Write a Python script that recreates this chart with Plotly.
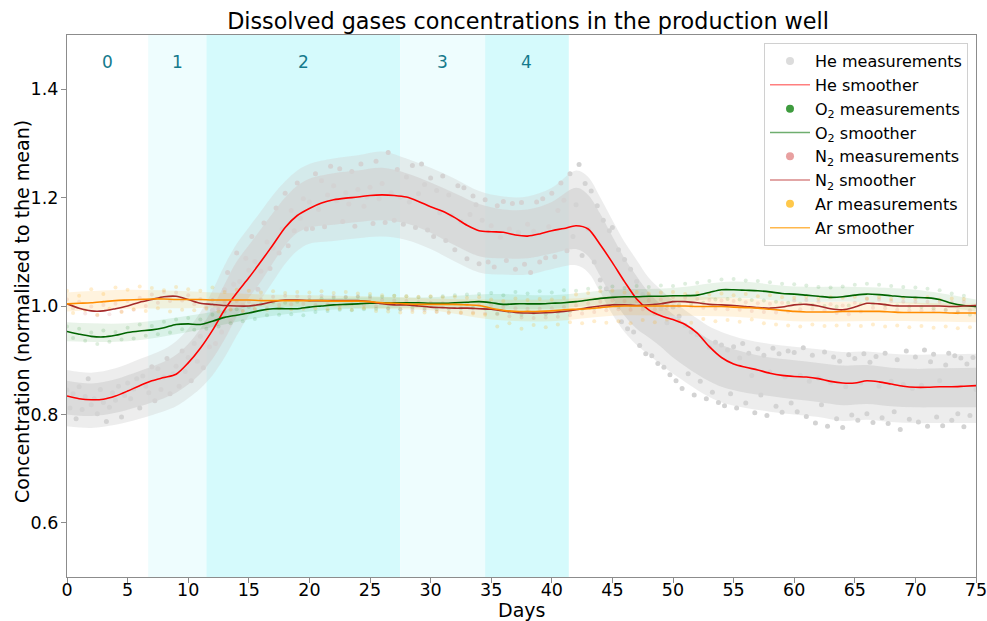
import numpy as np
import plotly.graph_objects as go

# ---------------- data ----------------
smooth_days = list(range(0, 76))

he_smooth = [0.834, 0.829, 0.827, 0.828, 0.834, 0.843, 0.853, 0.862, 0.868, 0.874,
             0.895, 0.922, 0.955, 0.993, 1.024, 1.052, 1.082, 1.113, 1.145, 1.167,
             1.180, 1.190, 1.196, 1.199, 1.201, 1.204, 1.205, 1.204, 1.201, 1.193,
             1.183, 1.175, 1.163, 1.149, 1.139, 1.137, 1.136, 1.131, 1.129, 1.133,
             1.139, 1.143, 1.148, 1.142, 1.113, 1.080, 1.045, 1.013, 0.993, 0.982,
             0.975, 0.966, 0.950, 0.925, 0.905, 0.893, 0.887, 0.882, 0.876, 0.872,
             0.870, 0.869, 0.866, 0.861, 0.858, 0.858, 0.862, 0.860, 0.856, 0.852,
             0.850, 0.850, 0.851, 0.851, 0.852, 0.853]

o2_smooth = [0.953, 0.948, 0.944, 0.943, 0.946, 0.951, 0.954, 0.956, 0.960, 0.966,
             0.967, 0.966, 0.972, 0.979, 0.983, 0.987, 0.992, 0.995, 0.995, 0.995,
             0.998, 1.000, 1.002, 1.003, 1.004, 1.005, 1.006, 1.006, 1.006, 1.006,
             1.005, 1.005, 1.006, 1.007, 1.008, 1.006, 1.003, 1.004, 1.004, 1.004,
             1.005, 1.006, 1.008, 1.011, 1.014, 1.016, 1.017, 1.017, 1.018, 1.018,
             1.019, 1.019, 1.020, 1.025, 1.030, 1.030, 1.029, 1.028, 1.026, 1.023,
             1.022, 1.020, 1.018, 1.016, 1.017, 1.020, 1.022, 1.021, 1.019, 1.017,
             1.016, 1.015, 1.012, 1.005, 1.001, 0.999]

n2_smooth = [1.004, 0.996, 0.991, 0.991, 0.995, 1.000, 1.007, 1.012, 1.017, 1.018,
             1.012, 1.005, 1.003, 1.001, 1.000, 1.000, 1.003, 1.008, 1.011, 1.011,
             1.010, 1.010, 1.010, 1.010, 1.010, 1.008, 1.004, 1.002, 1.002, 1.000,
             0.998, 0.997, 0.996, 0.996, 0.995, 0.994, 0.991, 0.988, 0.987, 0.987,
             0.988, 0.990, 0.993, 0.997, 1.000, 1.002, 1.002, 1.001, 1.002, 1.004,
             1.008, 1.008, 1.006, 1.003, 1.002, 1.001, 0.999, 0.997, 0.996, 0.998,
             1.002, 1.003, 1.000, 0.995, 0.993, 0.998, 1.005, 1.004, 1.001, 1.000,
             1.000, 1.000, 1.000, 0.999, 1.000, 1.001]

ar_smooth = [1.004, 1.005, 1.006, 1.008, 1.010, 1.011, 1.012, 1.013, 1.013, 1.012,
             1.012, 1.012, 1.011, 1.011, 1.011, 1.011, 1.010, 1.010, 1.010, 1.010,
             1.010, 1.010, 1.009, 1.009, 1.009, 1.008, 1.006, 1.005, 1.004, 1.003,
             1.003, 1.003, 1.003, 1.002, 1.001, 0.996, 0.992, 0.990, 0.990, 0.990,
             0.991, 0.993, 0.994, 0.995, 0.997, 0.999, 1.000, 1.000, 1.000, 1.000,
             1.000, 1.000, 0.999, 0.999, 0.999, 0.998, 0.997, 0.996, 0.994, 0.992,
             0.990, 0.989, 0.989, 0.989, 0.990, 0.990, 0.990, 0.990, 0.989, 0.988,
             0.988, 0.988, 0.988, 0.987, 0.987, 0.987]

# He measurement cloud: dense core and sparse outer edge (lower / upper)
he_band_days = [0, 2, 4, 6, 8, 9, 10, 11, 12, 13, 14, 15, 16, 17, 18, 19, 20, 22, 24, 26,
                28, 30, 32, 34, 36, 38, 40, 42, 43, 44, 45, 46, 47, 48, 49, 50, 51, 52, 53, 54,
                56, 58, 60, 62, 64, 66, 68, 70, 72, 75]
he_band_lo = [0.800, 0.797, 0.803, 0.815, 0.830, 0.840, 0.855, 0.875, 0.902, 0.938,
              0.980, 1.015, 1.045, 1.080, 1.112, 1.135, 1.145, 1.150, 1.155, 1.158,
              1.152, 1.135, 1.112, 1.092, 1.088, 1.088, 1.097, 1.105, 1.092, 1.055,
              1.015, 0.982, 0.958, 0.942, 0.925, 0.905, 0.889, 0.874, 0.861, 0.851,
              0.840, 0.834, 0.828, 0.823, 0.817, 0.819, 0.815, 0.813, 0.813, 0.813]
he_band_hi = [0.862, 0.857, 0.865, 0.880, 0.897, 0.910, 0.930, 0.958, 0.995, 1.040,
              1.082, 1.112, 1.142, 1.172, 1.200, 1.222, 1.235, 1.245, 1.250, 1.255,
              1.245, 1.228, 1.208, 1.188, 1.178, 1.178, 1.192, 1.218, 1.205, 1.170,
              1.128, 1.088, 1.055, 1.025, 1.003, 0.985, 0.968, 0.953, 0.938, 0.928,
              0.914, 0.905, 0.900, 0.895, 0.890, 0.891, 0.886, 0.884, 0.885, 0.886]
he_outer_lo = [0.778, 0.775, 0.781, 0.792, 0.806, 0.815, 0.830, 0.848, 0.872, 0.905,
               0.945, 0.982, 1.012, 1.045, 1.078, 1.102, 1.115, 1.120, 1.125, 1.128,
               1.122, 1.105, 1.082, 1.062, 1.058, 1.058, 1.068, 1.075, 1.062, 1.025,
               0.985, 0.952, 0.928, 0.910, 0.892, 0.875, 0.860, 0.845, 0.832, 0.822,
               0.812, 0.805, 0.800, 0.795, 0.788, 0.790, 0.786, 0.784, 0.784, 0.784]
he_outer_hi = [0.882, 0.877, 0.885, 0.902, 0.920, 0.935, 0.958, 0.988, 1.028, 1.075,
               1.115, 1.145, 1.175, 1.205, 1.230, 1.250, 1.262, 1.272, 1.278, 1.285,
               1.272, 1.255, 1.235, 1.212, 1.202, 1.202, 1.218, 1.250, 1.238, 1.200,
               1.158, 1.118, 1.085, 1.052, 1.030, 1.010, 0.992, 0.977, 0.962, 0.952,
               0.938, 0.930, 0.925, 0.920, 0.915, 0.916, 0.912, 0.910, 0.911, 0.912]

# faint clouds of O2 and Ar measurements (lower / upper edge)
gas_band_days = [0, 5, 10, 15, 20, 25, 30, 35, 40, 45, 50, 55, 60, 65, 70, 75]
o2_band_lo = [0.935, 0.935, 0.952, 0.975, 0.990, 0.996, 0.996, 0.994, 0.995, 1.003,
              1.006, 1.015, 1.008, 1.008, 1.004, 0.990]
o2_band_hi = [0.970, 0.968, 0.982, 1.000, 1.012, 1.016, 1.016, 1.022, 1.020, 1.030,
              1.033, 1.045, 1.036, 1.035, 1.030, 1.012]
ar_band_lo = [0.990, 0.995, 0.996, 0.998, 0.999, 0.995, 0.992, 0.975, 0.972, 0.982,
              0.982, 0.980, 0.972, 0.972, 0.972, 0.970]
ar_band_hi = [1.025, 1.030, 1.027, 1.022, 1.020, 1.018, 1.014, 1.012, 1.012, 1.018,
              1.018, 1.015, 1.008, 1.008, 1.006, 1.004]

# individual measurements
he_days = np.linspace(0, 75, 301)
gas_days = np.linspace(0, 75, 151)

he_meas = [
    0.845, 0.812, 0.838, 0.792, 0.851, 0.809, 0.833, 0.866, 0.818, 0.829, 0.801, 0.846, 0.822, 0.787, 0.813, 0.840, 0.826, 0.852, 0.795, 0.835,
    0.858, 0.829, 0.847, 0.866, 0.812, 0.871, 0.852, 0.840, 0.888, 0.825, 0.884, 0.846, 0.869, 0.903, 0.838, 0.875, 0.889, 0.852, 0.917, 0.879,
    0.905, 0.862, 0.931, 0.898, 0.944, 0.886, 0.968, 0.925, 0.992, 0.931, 0.998, 0.952, 1.030, 1.062, 0.972, 1.040, 1.098, 1.045, 1.001, 1.088,
    1.066, 1.128, 1.082, 1.031, 1.064, 1.153, 1.118, 1.069, 1.107, 1.181, 1.098, 1.142, 1.208, 1.111, 1.176, 1.139, 1.227, 1.162, 1.198, 1.142,
    1.192, 1.143, 1.244, 1.178, 1.231, 1.146, 1.205, 1.258, 1.222, 1.194, 1.253, 1.156, 1.209, 1.188, 1.248, 1.147, 1.215, 1.262, 1.184, 1.201,
    1.219, 1.152, 1.267, 1.198, 1.226, 1.154, 1.283, 1.209, 1.158, 1.252, 1.201, 1.151, 1.238, 1.192, 1.259, 1.145, 1.207, 1.262, 1.224, 1.140,
    1.236, 1.128, 1.213, 1.172, 1.240, 1.121, 1.205, 1.167, 1.104, 1.222, 1.156, 1.218, 1.087, 1.169, 1.203, 1.187, 1.078, 1.158, 1.196, 1.081,
    1.148, 1.072, 1.185, 1.127, 1.193, 1.084, 1.142, 1.189, 1.068, 1.136, 1.191, 1.077, 1.151, 1.062, 1.138, 1.192, 1.081, 1.198, 1.089, 1.146,
    1.208, 1.091, 1.176, 1.227, 1.195, 1.102, 1.244, 1.128, 1.187, 1.261, 1.093, 1.226, 1.142, 1.212, 1.081, 1.185, 1.048, 1.158, 1.032, 1.139,
    1.145, 1.002, 1.104, 0.971, 1.086, 0.958, 1.068, 0.952, 1.045, 0.927, 1.021, 0.912, 1.018, 0.908, 0.986, 0.894, 0.995, 0.887, 0.969, 0.873,
    0.998, 0.862, 0.981, 0.848, 0.964, 0.875, 0.952, 0.836, 0.947, 0.861, 0.939, 0.829, 0.924, 0.841, 0.933, 0.822, 0.928, 0.816, 0.919, 0.838,
    0.925, 0.812, 0.904, 0.931, 0.821, 0.913, 0.872, 0.803, 0.921, 0.836, 0.909, 0.798, 0.878, 0.922, 0.815, 0.912, 0.804, 0.869, 0.917, 0.821,
    0.914, 0.805, 0.872, 0.923, 0.796, 0.861, 0.909, 0.784, 0.867, 0.818, 0.915, 0.778, 0.859, 0.906, 0.792, 0.898, 0.776, 0.851, 0.910, 0.799,
    0.903, 0.789, 0.858, 0.912, 0.801, 0.896, 0.785, 0.907, 0.852, 0.794, 0.913, 0.783, 0.861, 0.805, 0.901, 0.772, 0.855, 0.917, 0.791, 0.848,
    0.906, 0.786, 0.854, 0.919, 0.778, 0.897, 0.911, 0.795, 0.862, 0.779, 0.891, 0.913, 0.789, 0.908, 0.801, 0.904, 0.777, 0.893, 0.798, 0.905,
    0.846]

o2_meas = [
    0.962, 0.941, 0.958, 0.936, 0.951, 0.930, 0.955, 0.934, 0.952, 0.938,
    0.960, 0.940, 0.966, 0.945, 0.963, 0.948, 0.971, 0.951, 0.975, 0.957,
    0.978, 0.956, 0.975, 0.958, 0.984, 0.962, 0.990, 0.968, 0.994, 0.972,
    0.998, 0.976, 1.004, 0.983, 1.007, 0.984, 1.006, 0.985, 1.008, 0.983,
    1.011, 0.989, 1.014, 0.991, 1.015, 0.993, 1.016, 0.992, 1.017, 0.994,
    1.018, 0.995, 1.017, 0.996, 1.019, 0.994, 1.018, 0.997, 1.016, 0.995,
    1.017, 0.994, 1.018, 0.995, 1.020, 0.996, 1.021, 0.997, 1.022, 0.995,
    1.024, 0.986, 1.020, 0.989, 1.026, 0.984, 1.023, 0.987, 1.027, 0.985,
    1.025, 0.988, 1.029, 0.990, 1.028, 0.994, 1.032, 0.996, 1.034, 0.999,
    1.036, 0.998, 1.033, 1.001, 1.037, 1.000, 1.035, 1.002, 1.038, 1.001,
    1.037, 1.003, 1.041, 1.004, 1.043, 1.006, 1.046, 1.012, 1.049, 1.013,
    1.050, 1.012, 1.047, 1.011, 1.046, 1.010, 1.044, 1.008, 1.041, 1.006,
    1.040, 1.004, 1.038, 1.002, 1.035, 1.000, 1.034, 0.999, 1.036, 1.001,
    1.039, 1.003, 1.041, 1.004, 1.039, 1.002, 1.037, 1.001, 1.035, 0.999,
    1.034, 0.998, 1.032, 0.996, 1.029, 0.993, 1.023, 0.988, 1.019, 0.984,
    0.998]

n2_meas = [
    1.012, 0.996, 1.008, 0.986, 0.999, 0.983, 1.002, 0.985, 1.004, 0.990,
    1.009, 0.993, 1.015, 1.000, 1.021, 1.006, 1.026, 1.009, 1.025, 1.010,
    1.020, 1.003, 1.013, 0.997, 1.011, 0.994, 1.008, 0.993, 1.009, 0.991,
    1.008, 0.993, 1.012, 0.996, 1.017, 1.002, 1.019, 1.003, 1.018, 1.004,
    1.017, 1.002, 1.019, 1.003, 1.018, 1.001, 1.017, 1.003, 1.018, 1.002,
    1.015, 0.999, 1.011, 0.995, 1.010, 0.994, 1.009, 0.993, 1.007, 0.992,
    1.006, 0.990, 1.005, 0.988, 1.004, 0.987, 1.003, 0.988, 1.002, 0.986,
    1.002, 0.985, 0.998, 0.981, 0.996, 0.979, 0.995, 0.978, 0.995, 0.979,
    0.996, 0.980, 0.998, 0.983, 1.001, 0.986, 1.005, 0.989, 1.008, 0.992,
    1.010, 0.994, 1.009, 0.993, 1.009, 0.994, 1.010, 0.994, 1.012, 0.996,
    1.016, 1.000, 1.015, 0.999, 1.013, 0.997, 1.011, 0.995, 1.010, 0.994,
    1.009, 0.993, 1.007, 0.991, 1.005, 0.989, 1.004, 0.988, 1.006, 0.990,
    1.010, 0.994, 1.011, 0.995, 1.008, 0.992, 1.003, 0.987, 1.001, 0.985,
    1.006, 0.990, 1.013, 0.997, 1.012, 0.996, 1.009, 0.993, 1.008, 0.992,
    1.008, 0.992, 1.008, 0.992, 1.008, 0.992, 1.007, 0.991, 1.008, 0.992,
    1.001]

ar_meas = [
    1.028, 0.987, 1.019, 0.992, 1.031, 0.984, 1.022, 0.995, 1.034, 0.989,
    1.030, 0.994, 1.036, 0.991, 1.033, 0.996, 1.029, 0.990, 1.035, 0.993,
    1.031, 0.992, 1.028, 0.995, 1.034, 0.990, 1.026, 0.994, 1.030, 0.991,
    1.028, 0.995, 1.025, 0.993, 1.027, 0.996, 1.024, 0.994, 1.026, 0.995,
    1.025, 0.996, 1.027, 0.994, 1.024, 0.995, 1.026, 0.993, 1.023, 0.996,
    1.022, 0.991, 1.020, 0.990, 1.019, 0.988, 1.018, 0.989, 1.017, 0.988,
    1.018, 0.989, 1.016, 0.987, 1.017, 0.988, 1.015, 0.986, 1.016, 0.984,
    1.012, 0.962, 1.009, 0.968, 1.014, 0.958, 1.011, 0.965, 1.013, 0.961,
    1.012, 0.966, 1.015, 0.970, 1.021, 0.968, 1.024, 0.972, 1.027, 0.969,
    1.028, 0.972, 1.025, 0.968, 1.026, 0.974, 1.023, 0.970, 1.025, 0.975,
    1.026, 0.973, 1.022, 0.969, 1.024, 0.976, 1.021, 0.972, 1.023, 0.974,
    1.020, 0.971, 1.022, 0.975, 1.018, 0.968, 1.020, 0.966, 1.016, 0.964,
    1.015, 0.962, 1.017, 0.966, 1.014, 0.963, 1.016, 0.964, 1.015, 0.965,
    1.017, 0.963, 1.014, 0.966, 1.016, 0.962, 1.013, 0.964, 1.015, 0.961,
    1.014, 0.963, 1.016, 0.960, 1.012, 0.962, 1.014, 0.959, 1.013, 0.961,
    0.986]

phase_edges = [0, 6.7, 11.5, 27.5, 34.5, 41.4]
phase_labels = ["0", "1", "2", "3", "4"]
phase_fill = [None, "#EEFDFE", "#D5FAFC", "#EEFDFE", "#D5FAFC"]

FONT = "DejaVu Sans"

fig = go.Figure()

# shaded phases
for i in range(len(phase_labels)):
    if phase_fill[i]:
        fig.add_shape(type="rect", xref="x", yref="paper",
                      x0=phase_edges[i], x1=phase_edges[i + 1], y0=0, y1=1,
                      fillcolor=phase_fill[i], line_width=0, layer="below")
    fig.add_annotation(x=(phase_edges[i] + phase_edges[i + 1]) / 2, y=0.972,
                       xref="x", yref="paper", text=phase_labels[i],
                       showarrow=False, font=dict(family=FONT, size=17, color="#157A8C"))


def add_band(xs, lo, hi, color):
    fig.add_trace(go.Scatter(x=xs, y=lo, mode="lines", line=dict(width=0, shape="spline"),
                             showlegend=False, hoverinfo="skip"))
    fig.add_trace(go.Scatter(x=xs, y=hi, mode="lines", line=dict(width=0, shape="spline"),
                             fill="tonexty", fillcolor=color,
                             showlegend=False, hoverinfo="skip"))


# measurement clouds
add_band(he_band_days, he_outer_lo, he_outer_hi, "rgba(211,211,211,0.42)")
add_band(he_band_days, he_band_lo, he_band_hi, "rgba(211,211,211,0.70)")
fig.add_trace(go.Scatter(x=he_days, y=he_meas, mode="markers", showlegend=False,
                         marker=dict(color="#D3D3D3", size=5, line_width=0),
                         hoverinfo="skip"))
add_band(gas_band_days, o2_band_lo, o2_band_hi, "rgba(34,139,34,0.10)")
fig.add_trace(go.Scatter(x=gas_days, y=o2_meas, mode="markers", showlegend=False,
                         marker=dict(color="rgba(34,139,34,0.15)", size=4, line_width=0),
                         hoverinfo="skip"))
fig.add_trace(go.Scatter(x=gas_days, y=n2_meas, mode="markers", showlegend=False,
                         marker=dict(color="rgba(205,92,92,0.15)", size=4, line_width=0),
                         hoverinfo="skip"))
add_band(gas_band_days, ar_band_lo, ar_band_hi, "rgba(255,165,0,0.13)")
fig.add_trace(go.Scatter(x=gas_days, y=ar_meas, mode="markers", showlegend=False,
                         marker=dict(color="rgba(255,165,0,0.2)", size=4, line_width=0),
                         hoverinfo="skip"))

# smoothers
lines = [
    (he_smooth, "#FF0000"),
    (o2_smooth, "#006400"),
    (n2_smooth, "#A52A2A"),
    (ar_smooth, "#FF8C00"),
]
for ys, col in lines:
    fig.add_trace(go.Scatter(x=smooth_days, y=ys, mode="lines", showlegend=False,
                             line=dict(color=col, width=1.6, shape="spline", smoothing=0.8),
                             hoverinfo="skip"))

# legend entries
legend_items = [
    ("He measurements", "markers", "#DCDCDC"),
    ("He smoother", "lines", "#FF7F7F"),
    ("O<sub>2</sub> measurements", "markers", "#3E9B3E"),
    ("O<sub>2</sub> smoother", "lines", "#6FAE6F"),
    ("N<sub>2</sub> measurements", "markers", "#E8A0A0"),
    ("N<sub>2</sub> smoother", "lines", "#D98888"),
    ("Ar measurements", "markers", "#FFC84A"),
    ("Ar smoother", "lines", "#FFB84D"),
]
for label, mode, col in legend_items:
    if mode == "markers":
        fig.add_trace(go.Scatter(x=[None], y=[None], mode="markers", name=label,
                                 marker=dict(color=col, size=8)))
    else:
        fig.add_trace(go.Scatter(x=[None], y=[None], mode="lines", name=label,
                                 line=dict(color=col, width=1.5)))

# axis titles as annotations (precise placement)
fig.add_annotation(text="Days", xref="paper", yref="paper", x=0.5, y=-0.061,
                   xanchor="center", yanchor="middle", showarrow=False,
                   font=dict(family=FONT, size=19, color="black"))
fig.add_annotation(text="Concentration (normalized to the mean)", xref="paper", yref="paper",
                   x=-0.0495, y=0.489, xanchor="center", yanchor="middle", textangle=-90,
                   showarrow=False, font=dict(family=FONT, size=19, color="black"))

fig.update_layout(
    width=987, height=621,
    margin=dict(l=67, r=11, t=35, b=44, autoexpand=False),
    paper_bgcolor="white", plot_bgcolor="white",
    font=dict(family=FONT, size=17, color="black"),
    title=dict(text="Dissolved gases concentrations in the production well",
               x=0.535, xanchor="center", y=0.978, yanchor="top",
               font=dict(family=FONT, size=22.3, color="black")),
    legend=dict(x=0.9912, y=0.985, xanchor="right", yanchor="top",
                traceorder="normal",
                bgcolor="white", bordercolor="#D0D0D0", borderwidth=1,
                font=dict(family=FONT, size=16), tracegroupgap=0,
                itemwidth=40),
    showlegend=True,
)
fig.update_xaxes(range=[0, 75], tickmode="array", tickvals=list(range(0, 80, 5)),
                 automargin=False, ticklabeloverflow="allow",
                 showgrid=False, zeroline=False, showline=True, linecolor="#8C8C8C",
                 linewidth=1.2, mirror=True, ticks="outside", ticklen=5, tickcolor="#8C8C8C",
                 ticklabelstandoff=-8,
                 tickfont=dict(size=17.5))
fig.update_yaxes(range=[0.5, 1.5], tickmode="array", tickvals=[0.6, 0.8, 1.0, 1.2, 1.4],
                 tickformat=".1f", automargin=False, ticklabeloverflow="allow",
                 showgrid=False, zeroline=False, showline=True, linecolor="#8C8C8C",
                 linewidth=1.2, mirror=True, ticks="outside", ticklen=5, tickcolor="#8C8C8C",
                 ticklabelstandoff=-1,
                 tickfont=dict(size=17.5))

fig.write_html("out.html", config={"displayModeBar": False},
               post_script="document.body.style.margin='0';document.body.style.overflow='hidden';")
